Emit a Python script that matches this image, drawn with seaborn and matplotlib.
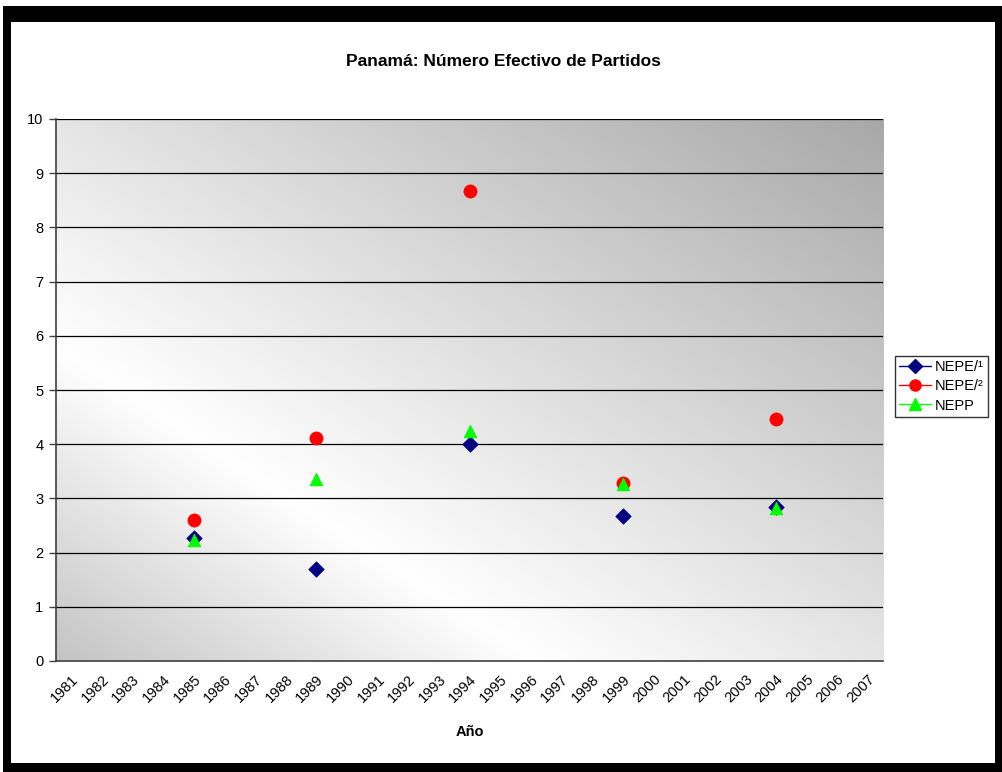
import numpy as np
import pandas as pd
import matplotlib
matplotlib.use("Agg")
import matplotlib.pyplot as plt
from matplotlib.lines import Line2D
from matplotlib.patches import Rectangle
import seaborn as sns

# Category axis: every year of the period
years = list(range(1981, 2008))
# Election years with measured values
election_years = [1985, 1989, 1994, 1999, 2004]
nepe1 = [2.27, 1.69, 4.01, 2.67, 2.84]
nepe2 = [2.61, 4.12, 8.68, 3.29, 4.46]
nepp = [2.23, 3.36, 4.24, 3.26, 2.82]
series_names = ["NEPE/\u00b9", "NEPE/\u00b2", "NEPP"]
y_ticks = list(range(0, 11))

sns.set_style("white")
plt.rcParams["font.family"] = ["Liberation Sans", "DejaVu Sans"]
plt.rcParams["text.color"] = "black"
plt.rcParams["xtick.color"] = "black"
plt.rcParams["ytick.color"] = "black"
plt.rcParams["axes.labelcolor"] = "black"

rows = []
for name, vals in zip(series_names, [nepe1, nepe2, nepp]):
    for yr, v in zip(election_years, vals):
        rows.append({"pos": years.index(yr), "valor": v, "serie": name})
df = pd.DataFrame(rows)

colors = {series_names[0]: "#000080", series_names[1]: "#ff0000", series_names[2]: "#00ff00"}
markers = {series_names[0]: "D", series_names[1]: "o", series_names[2]: "^"}
sizes = {series_names[0]: 62, series_names[1]: 90, series_names[2]: 85}

W, H = 1002, 772
fig = plt.figure(figsize=(W / 100, H / 100), dpi=100)

# Black frame around the chart
fig.patches.append(Rectangle((3 / W, 0), 1 - 3 / W, 1 - 6 / H, transform=fig.transFigure,
                             facecolor="black", edgecolor="none", zorder=-10))
fig.patches.append(Rectangle((11 / W, 9 / H), (995 - 11) / W, (763 - 22) / H,
                             transform=fig.transFigure, facecolor="white",
                             edgecolor="none", zorder=-9))

ax = fig.add_axes([56 / W, 1 - 661 / H, (883 - 56) / W, (661 - 119) / H])
ax.set_facecolor("none")

# Diagonal gradient fill of the plot area: white band, grey towards the corners
u = np.linspace(0, 1, 400)
v = np.linspace(0, 1, 300)
U, V = np.meshgrid(u, v)
s = U + V - 0.58
g = np.where(s < 0, 1 - 0.40 * np.abs(s), 1 - 0.24 * s)
g = np.clip(g, 0, 1)
img = np.dstack([g, g, g])
ax.imshow(img, extent=[0, 1, 0, 1], transform=ax.transAxes, origin="lower",
          aspect="auto", zorder=0)

for name in series_names:
    sub = df[df["serie"] == name]
    sns.scatterplot(data=sub, x="pos", y="valor", color=colors[name],
                    marker=markers[name], s=sizes[name], edgecolor=colors[name],
                    linewidth=0.5, ax=ax, zorder=5, legend=False)

ax.set_xlim(-0.5, len(years) - 0.5)
ax.set_ylim(0, 10)
ax.set_yticks(y_ticks)
ax.set_yticklabels([str(t) for t in y_ticks], fontsize=10.5)
ax.set_xticks(range(len(years)))
ax.set_xticklabels([str(y) for y in years], fontsize=10.5, rotation=45,
                   ha="right", rotation_mode="anchor")
ax.set_xticks(np.arange(-0.5, len(years), 1.0), minor=True)
ax.tick_params(axis="x", which="major", length=0, pad=8)
ax.tick_params(axis="x", which="minor", length=5, width=1, color="#404040", direction="out")
ax.tick_params(axis="y", which="major", length=5, width=1, color="#404040",
               direction="out", left=True, pad=4)

ax.grid(False)
for t in y_ticks[1:]:
    ax.axhline(t, color="black", lw=0.9, zorder=1)

for side in ["top", "right"]:
    ax.spines[side].set_visible(False)
for side in ["left", "bottom"]:
    ax.spines[side].set_color("#404040")
    ax.spines[side].set_linewidth(1.2)
    ax.spines[side].set_zorder(2)

ax.set_xlabel("Año", fontsize=10.5, fontweight="bold")
ax.set_ylabel("")
ax.xaxis.set_label_coords((470 - 56) / (883 - 56), -(732 - 661) / (661 - 119), transform=ax.transAxes)
ax.xaxis.label.set_va("center")

fig.text(503 / W, 1 - 62 / H, "Panamá: Número Efectivo de Partidos",
         ha="center", va="center", fontsize=12.5, fontweight="bold")

handles = [Line2D([0], [0], color=colors[n], marker=markers[n],
                  markersize=8 if n != series_names[0] else 7,
                  markerfacecolor=colors[n], markeredgecolor=colors[n], lw=1)
           for n in series_names]
leg = fig.legend(handles, series_names, loc="upper left",
                 bbox_to_anchor=(895 / W, 1 - 356 / H), frameon=True, fancybox=False,
                 fontsize=10.5, handlelength=2.2, handletextpad=0.2, borderpad=0.3,
                 labelspacing=0.35, borderaxespad=0)
leg.get_frame().set_edgecolor("black")
leg.get_frame().set_linewidth(1)

fig.savefig("out.png", dpi=100)
